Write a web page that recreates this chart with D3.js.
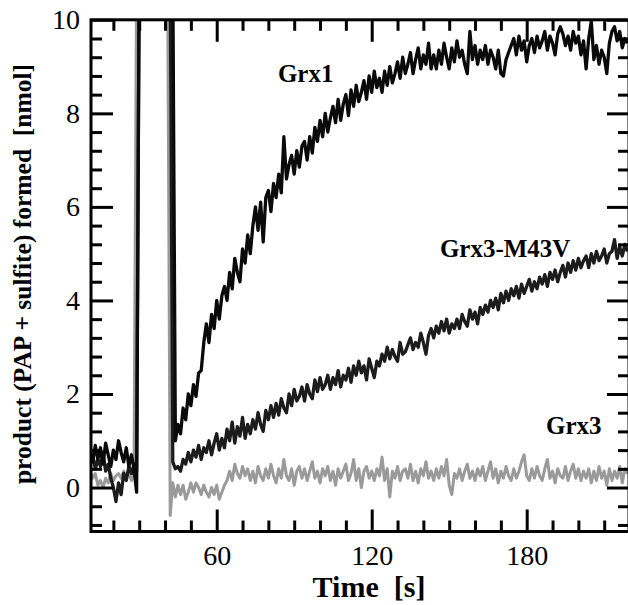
<!DOCTYPE html>
<html>
<head>
<meta charset="utf-8">
<script src="https://cdn.jsdelivr.net/npm/d3@7"></script>
<style>
  body { margin: 0; background: #fff; }
  svg { display: block; font-family: 'Liberation Serif', 'DejaVu Serif', serif; }
</style>
</head>
<body>
<div id="chart-container"></div>
<script>
// Sampling grids (s). Before the first injection and after the second one.
const preTime = d3.range(11, 31, 1);      // 11 .. 30
const postTime = d3.range(41, 220, 1);    // 41 .. 219

// Values above 10 are off scale (the injection artefacts), clipped by the frame
const grx1Pre = [0.75, 0.55, 0.9, 0.6, 0.85, 0.5, 0.95, 0.7, 0.45, 0.8,
    0.6, 1.0, 0.75, 0.55, 0.85, 0.45, 0.7, 0.4, -0.1, 11];
const m43vPre = [0.5, 0.7, 0.4, 0.6, 0.45, 0.75, 0.35, 0.5, 0.2, 0.0,
    -0.3, 0.1, -0.15, 0.3, 0.15, 0.45, 0.3, 0.5, 0.35, 11];
const grx3Pre = [0.35, 0.2, 0.3, 0.05, 0.15, 0.0, 0.2, 0.1, 0.3, 0.15,
    0.25, 0.3, 0.2, 0.35, 0.25, 0.3, 0.15, 0.3, 11, 11];

const grx1Post = [11, 11, 11,
    1.0, 1.35, 1.15, 1.7, 1.45, 2.0, 1.75, 2.2, 1.95, 2.45,
    2.5, 3.1, 3.5, 3.1, 3.7, 3.4, 4.0, 3.6, 4.1, 4.3,
    4.0, 4.6, 4.25, 4.9, 4.6, 4.4, 5.1, 4.8, 5.4, 5.0,
    5.6, 6.0, 5.5, 6.1, 5.25, 6.2, 6.35, 5.9, 6.5, 6.2,
    6.7, 6.3, 7.5, 6.6, 6.9, 7.1, 6.7, 7.2, 6.85, 7.3,
    7.4, 7.0, 7.5, 7.15, 7.7, 7.4, 7.85, 7.5, 8.0, 7.6,
    7.9, 8.15, 7.8, 8.3, 7.85, 8.2, 8.4, 7.95, 8.5, 8.15,
    8.6, 8.25, 8.45, 8.7, 8.3, 8.8, 8.45, 8.9, 8.55, 8.75,
    8.45, 8.9, 8.6, 9.0, 8.65, 8.85, 9.1, 8.75, 9.2, 8.85,
    9.05, 9.3, 8.85, 9.15, 9.4, 8.95, 9.25, 9.05, 9.5, 8.95,
    9.25, 8.95, 9.35, 9.05, 9.5, 9.2, 8.95, 9.4, 9.1, 9.55,
    9.2, 9.35, 9.05, 8.85, 9.75, 9.15, 9.45, 9.05, 9.35, 9.15,
    9.45, 9.05, 9.35, 9.2, 8.95, 9.35, 8.85, 8.8, 9.15, 9.3,
    9.45, 9.6, 9.25, 9.65, 9.35, 9.55, 9.1, 9.45, 9.6, 9.3,
    9.65, 9.4, 9.55, 9.75, 9.35, 9.65, 9.5, 9.25, 9.7, 9.85,
    9.7, 9.45, 9.65, 9.35, 9.75, 9.5, 9.65, 9.25, 9.55, 8.95,
    9.6, 9.97, 9.15, 9.45, 9.05, 9.35, 9.2, 8.85, 9.5, 9.75,
    9.85, 9.55, 9.75, 9.4, 9.6, 9.5];
const m43vPost = [11, 11,
    0.55, 0.4, 0.45, 0.35, 0.6, 0.5, 0.75, 0.55, 0.8, 0.65,
    0.9, 0.6, 0.85, 0.75, 1.0, 0.7, 0.95, 1.15, 0.8, 1.05,
    0.85, 1.25, 1.0, 1.4, 0.95, 1.3, 1.1, 1.5, 1.05, 1.35,
    1.15, 1.45, 1.25, 1.6, 1.35, 1.2, 1.65, 1.45, 1.75, 1.5,
    1.8, 1.55, 1.9, 1.7, 1.6, 2.0, 1.75, 2.1, 1.85, 1.95,
    2.15, 1.85, 2.2, 2.0, 1.9, 2.3, 2.05, 2.35, 2.1, 2.2,
    2.4, 2.1, 2.35, 2.2, 2.5, 2.15, 2.4, 2.3, 2.55, 2.25,
    2.6, 2.4, 2.7, 2.45, 2.6, 2.3, 2.75, 2.55, 2.35, 2.7,
    2.6, 2.85, 2.7, 3.0, 2.75, 2.95, 2.8, 2.7, 3.1, 2.85,
    2.9, 3.05, 3.2, 2.95, 3.1, 3.0, 3.3, 3.1, 2.85, 3.25,
    3.4, 3.2, 3.45, 3.3, 3.55, 3.35, 3.6, 3.3, 3.5, 3.4,
    3.6, 3.4, 3.7, 3.55, 3.45, 3.8, 3.6, 3.75, 3.5, 3.85,
    3.7, 3.9, 3.75, 4.0, 3.85, 4.05, 3.8, 4.15, 3.95, 4.2,
    4.0, 4.25, 4.1, 4.3, 4.05, 4.35, 4.15, 4.3, 4.45, 4.2,
    4.4, 4.25, 4.5, 4.35, 4.55, 4.3, 4.6, 4.45, 4.65, 4.4,
    4.6, 4.75, 4.5, 4.8, 4.6, 4.85, 4.65, 4.9, 4.7, 4.85,
    4.95, 4.7, 5.0, 4.8, 5.05, 4.85, 4.95, 5.1, 4.8, 5.0,
    5.05, 5.3, 4.9, 5.15, 4.95, 5.2, 5.05];
const grx3Post = [11, -0.6,
    0.1, -0.2, 0.05, -0.15, 0.05, -0.25, -0.1, 0.1, -0.1, 0.1,
    0.0, -0.15, 0.05, -0.1, -0.2, 0.0, -0.15, 0.05, -0.25, -0.1,
    0.05, 0.15, 0.35, 0.15, 0.5, 0.3, 0.2, 0.45, 0.25, 0.4,
    0.15, 0.35, 0.1, 0.45, 0.25, 0.15, 0.4, 0.2, 0.5, 0.25,
    0.1, 0.4, 0.2, 0.6, 0.25, 0.15, 0.4, 0.05, 0.35, 0.45,
    0.2, 0.4, 0.15, 0.35, 0.55, 0.2, 0.35, 0.1, 0.4, 0.25,
    0.45, 0.15, 0.35, 0.05, 0.4, 0.2, 0.35, 0.5, 0.15, 0.3,
    0.6, 0.15, 0.4, 0.0, 0.35, 0.45, 0.2, 0.35, 0.15, 0.4,
    0.25, 0.65, 0.15, 0.4, -0.2, 0.35, 0.2, 0.45, 0.15, 0.35,
    0.4, 0.2, 0.5, 0.15, 0.35, 0.1, 0.4, 0.25, 0.55, 0.2,
    0.35, 0.15, 0.4, 0.2, 0.45, 0.25, 0.6, 0.05, -0.15, 0.3,
    0.2, 0.4, 0.15, 0.35, 0.5, 0.2, 0.35, 0.15, 0.4, 0.25,
    0.45, 0.15, 0.35, 0.55, 0.2, 0.4, 0.1, 0.35, 0.2, 0.45,
    0.25, 0.15, 0.4, 0.2, 0.35, 0.55, 0.7, 0.25, 0.15, 0.4,
    0.2, 0.45, 0.25, 0.15, 0.4, 0.6, 0.2, 0.35, 0.1, 0.4,
    0.25, 0.2, 0.45, 0.15, 0.35, 0.5, 0.2, 0.4, 0.15, 0.35,
    0.2, 0.4, 0.1, 0.35, 0.15, 0.45, 0.2, 0.35, 0.05, 0.4,
    0.15, 0.35, 0.2, 0.45, 0.1, 0.4, 0.3];

const xMajor = [60, 120, 180];
const xMinor = [20, 30, 40, 50, 70, 80, 90, 100, 110, 130, 140, 150, 160, 170, 190, 200, 210];
const yMajor = [0, 2, 4, 6, 8, 10];
const yMinor = [-0.8, -0.4, 0.4, 0.8, 1.2, 1.6, 2.4, 2.8, 3.2, 3.6, 4.4, 4.8, 5.2, 5.6,
    6.4, 6.8, 7.2, 7.6, 8.4, 8.8, 9.2, 9.6];

// series: label text sits at [time, value] of its baseline start
const series = [
    { name: 'Grx3', color: '#9a9a9a', width: 3, pre: grx3Pre, post: grx3Post, label: [187.5, 1.14] },
    { name: 'Grx3-M43V', color: '#1c1c1c', width: 3.3, pre: m43vPre, post: m43vPost, label: [146.4, 4.93] },
    { name: 'Grx1', color: '#0a0a0a', width: 3.3, pre: grx1Pre, post: grx1Post, label: [83.7, 8.67] }
];

const SERIF = "'Liberation Serif', 'Times New Roman', serif";
const WIDTH = 628, HEIGHT = 605;
const svg = d3.select('#chart-container').append('svg')
    .attr('width', WIDTH)
    .attr('height', HEIGHT)
    .attr('font-family', SERIF);

const xScale = d3.scaleLinear().domain([11.34, 219.6]).range([91, 629]);
const yScale = d3.scaleLinear().domain([-0.94, 10]).range([531.5, 19.8]);
const [x0, x1] = xScale.range();
const [y0, y1] = yScale.range();

svg.append('clipPath').attr('id', 'plot-clip')
  .append('rect')
    .attr('x', x0).attr('y', y1)
    .attr('width', x1 - x0).attr('height', y0 - y1);

// Data traces
const line = d3.line()
    .x(d => xScale(d[0]))
    .y(d => yScale(d[1]));
const traces = svg.append('g').attr('clip-path', 'url(#plot-clip)');
series.forEach(s => {
    [[preTime, s.pre], [postTime, s.post]].forEach(([times, values]) => {
        traces.append('path')
            .datum(times.map((t, i) => [t, values[i]]))
            .attr('fill', 'none')
            .attr('stroke', s.color)
            .attr('stroke-width', s.width)
            .attr('stroke-linejoin', 'round')
            .attr('d', line);
    });
});

// Axes: ticks point inward on all four sides
function styleAxis(g) {
    g.attr('font-family', SERIF).attr('font-size', 28);
    g.select('.domain').remove();
    g.selectAll('.tick line').attr('stroke', '#000').attr('stroke-width', 3);
    g.selectAll('.tick text')
        .attr('fill', '#000')
        .attr('font-family', SERIF)
        .attr('font-size', 28);
}
const MAJOR = 22, MINOR = 11;

svg.append('g')
    .attr('transform', `translate(0,${y0})`)
    .call(d3.axisBottom(xScale).tickValues(xMajor).tickSizeInner(-MAJOR).tickSizeOuter(0).tickPadding(13.5))
    .call(styleAxis);
svg.append('g')
    .attr('transform', `translate(0,${y0})`)
    .call(d3.axisBottom(xScale).tickValues(xMinor).tickSizeInner(-MINOR).tickSizeOuter(0).tickFormat(''))
    .call(styleAxis);
svg.append('g')
    .attr('transform', `translate(0,${y1})`)
    .call(d3.axisTop(xScale).tickValues(xMajor).tickSizeInner(-MAJOR).tickSizeOuter(0).tickFormat(''))
    .call(styleAxis);
svg.append('g')
    .attr('transform', `translate(0,${y1})`)
    .call(d3.axisTop(xScale).tickValues(xMinor).tickSizeInner(-MINOR).tickSizeOuter(0).tickFormat(''))
    .call(styleAxis);

svg.append('g')
    .attr('transform', `translate(${x0},0)`)
    .call(d3.axisLeft(yScale).tickValues(yMajor).tickSizeInner(-MAJOR).tickSizeOuter(0).tickPadding(11))
    .call(styleAxis);
svg.append('g')
    .attr('transform', `translate(${x0},0)`)
    .call(d3.axisLeft(yScale).tickValues(yMinor).tickSizeInner(-MINOR).tickSizeOuter(0).tickFormat(''))
    .call(styleAxis);
svg.append('g')
    .attr('transform', `translate(${x1},0)`)
    .call(d3.axisRight(yScale).tickValues(yMajor).tickSizeInner(-MAJOR).tickSizeOuter(0).tickFormat(''))
    .call(styleAxis);
svg.append('g')
    .attr('transform', `translate(${x1},0)`)
    .call(d3.axisRight(yScale).tickValues(yMinor).tickSizeInner(-MINOR).tickSizeOuter(0).tickFormat(''))
    .call(styleAxis);

// Frame
svg.append('rect')
    .attr('x', x0).attr('y', y1)
    .attr('width', x1 - x0).attr('height', y0 - y1)
    .attr('fill', 'none')
    .attr('stroke', '#000')
    .attr('stroke-width', 3);

// Series labels
svg.selectAll('.series-label')
    .data(series)
    .enter()
    .append('text')
        .attr('class', 'series-label')
        .attr('x', d => xScale(d.label[0]))
        .attr('y', d => yScale(d.label[1]))
        .attr('font-size', 25)
        .attr('font-weight', 'bold')
        .text(d => d.name);

// Axis titles
svg.append('text')
    .attr('x', 369)
    .attr('y', 597)
    .attr('font-size', 30)
    .attr('font-weight', 'bold')
    .style('text-anchor', 'middle')
    .style('white-space', 'pre')
    .text('Time  [s]');

svg.append('text')
    .attr('transform', 'translate(31,274) rotate(-90)')
    .attr('font-size', 25.5)
    .attr('font-weight', 'bold')
    .style('text-anchor', 'middle')
    .style('white-space', 'pre')
    .text('product (PAP + sulfite) formed  [nmol]');
</script>
</body>
</html>
